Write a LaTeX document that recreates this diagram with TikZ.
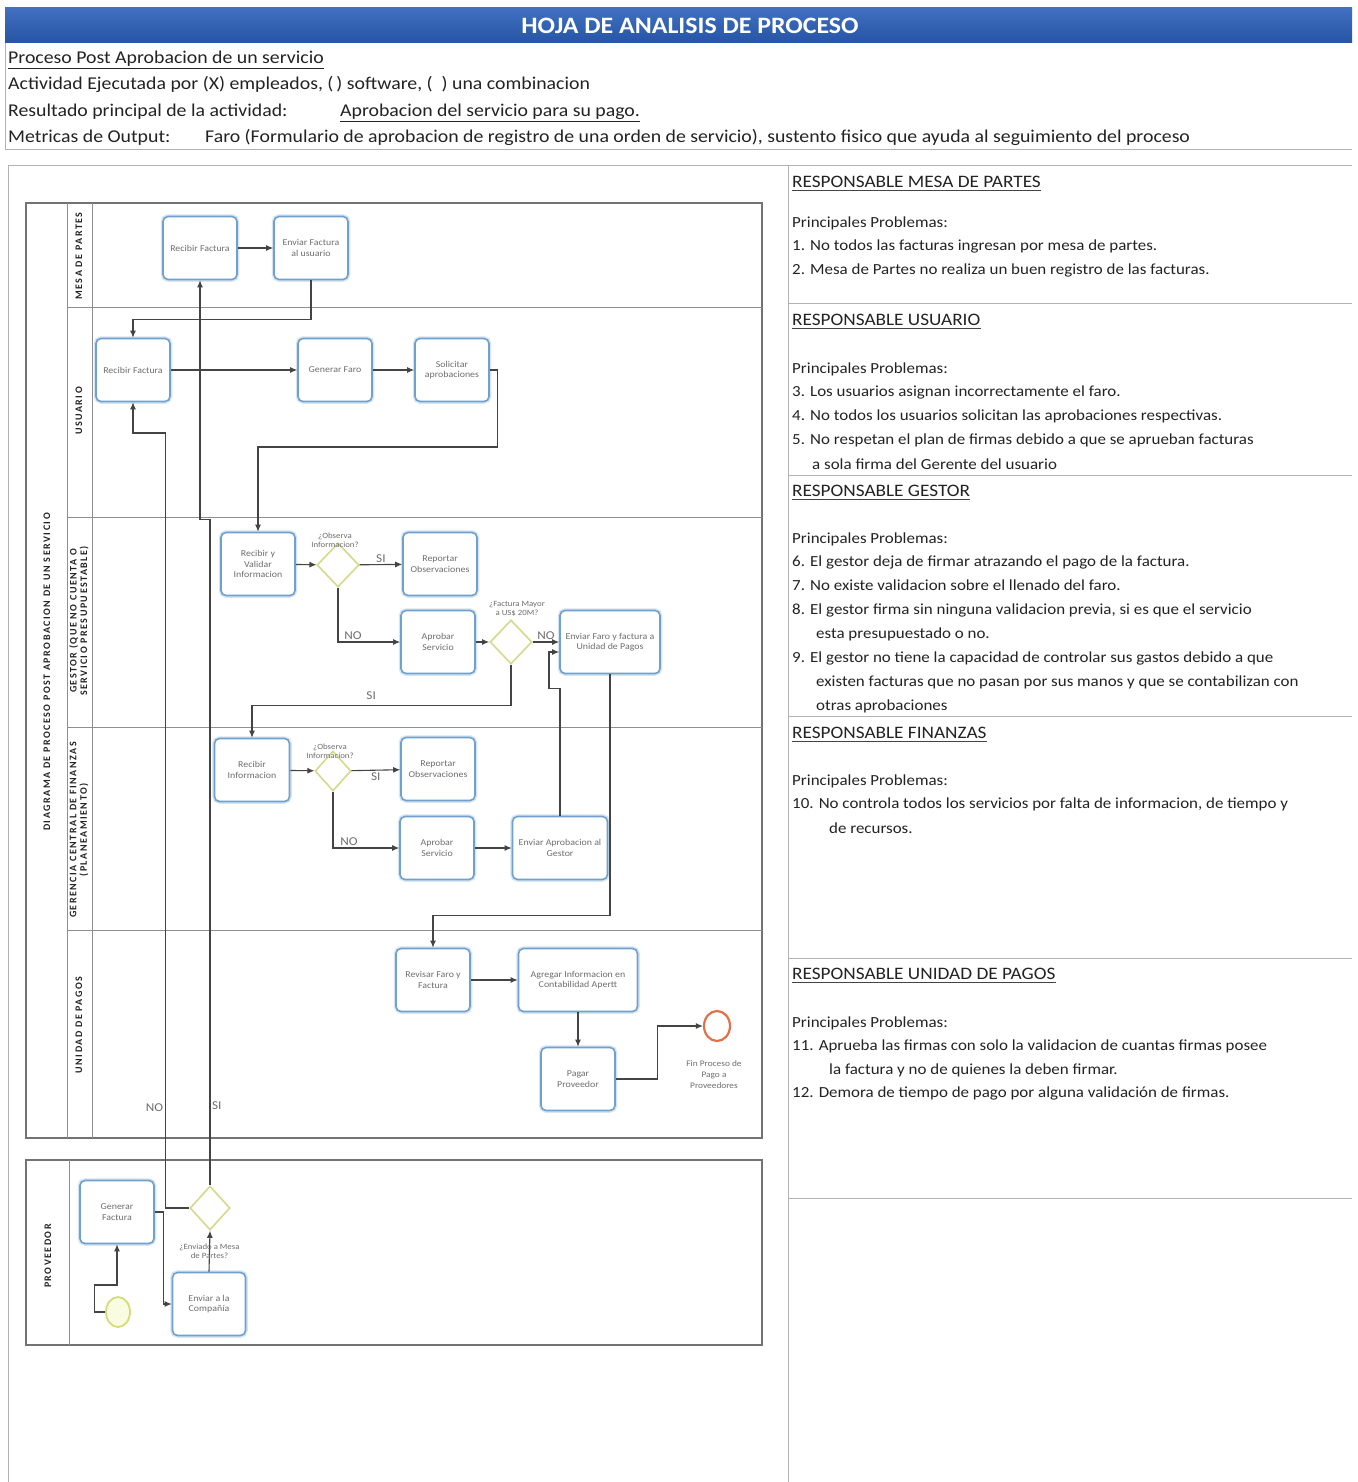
\documentclass[tikz,border=0pt]{standalone}
\usepackage{fontspec}
\setmainfont{Carlito}[FakeStretch=1.1]
\newfontfamily\lanefont{Carlito}[LetterSpace=15]
\usetikzlibrary{shapes.geometric,arrows.meta,calc}
\definecolor{barblue}{RGB}{38,84,166}
\definecolor{bartop}{RGB}{66,112,192}
\definecolor{boxblue}{RGB}{112,160,205}
\definecolor{decgreen}{RGB}{212,218,140}
\definecolor{flowgray}{RGB}{68,68,68}
\definecolor{poolgray}{RGB}{115,115,115}
\definecolor{rulegray}{RGB}{178,178,178}
\definecolor{txtgray}{RGB}{110,110,110}
\definecolor{endred}{RGB}{228,112,72}
\definecolor{startgreen}{RGB}{212,220,120}
\definecolor{startfill}{RGB}{250,252,226}
\definecolor{bodytext}{RGB}{35,35,35}
\begin{document}
\begin{tikzpicture}[x=1pt,y=-1pt,
  task/.style={draw=boxblue, line width=1.6pt, rounded corners=5pt, fill=white,
    preaction={draw=boxblue!28, line width=4.5pt},
    minimum width=74pt, minimum height=63pt, align=center,
    font=\fontsize{9}{10.5}\selectfont, text=txtgray, inner sep=2pt},
  gate/.style={diamond, draw=decgreen, line width=1.6pt, fill=white,
    minimum width=42pt, minimum height=44pt, inner sep=0pt},
  flow/.style={draw=flowgray, line width=1.1pt, -{Latex[length=7pt,width=6pt]}},
  qlabel/.style={font=\fontsize{8}{9}\selectfont, text=txtgray, align=center, inner sep=1pt},
  branch/.style={font=\fontsize{12}{13}\selectfont, text=txtgray, inner sep=1.5pt},
  lanelbl/.style={rotate=90, font=\lanefont\bfseries\fontsize{10}{10.5}\selectfont, text=bodytext, align=center, inner sep=0pt},
  pool/.style={draw=poolgray, line width=1.2pt},
  lanerule/.style={draw=poolgray!80, line width=1pt},
  panelrule/.style={draw=rulegray, line width=1pt},
  hdr/.style={anchor=base west, font=\fontsize{18}{21}\selectfont, text=bodytext, inner sep=0pt},
  rhead/.style={anchor=base west, font=\fontsize{17.5}{20}\selectfont, text=bodytext, inner sep=0pt},
  rtext/.style={anchor=base west, font=\fontsize{15.4}{18}\selectfont, text=bodytext, inner sep=0pt},
  headline/.style={draw=bodytext!85, line width=1.5pt}
]
\useasboundingbox (0,0) rectangle (1357,1482);
\fill[white] (0,0) rectangle (1357,1482);

% ---------- title bar and header lines ----------
\shade[top color=bartop, bottom color=barblue] (5,8) rectangle (1352,43);
\node[font=\bfseries\fontsize{23.5}{26}\selectfont, text=white] (title) at (690,26) {HOJA DE ANALISIS DE PROCESO};
\draw[panelrule, line width=0.8pt] (5,43) -- (5,150);
\node[hdr] (h1) at (8,64) {\underline{Proceso Post Aprobacion de un servicio}};
\node[hdr] (h2) at (8,90) {Actividad Ejecutada por (X) empleados, (\,) software, (\enspace) una combinacion};
\node[hdr] (h3) at (8,117) {Resultado principal de la actividad:};
\node[hdr] (h3b) at (340,117) {\underline{Aprobacion del servicio para su pago.}};
\node[hdr] (h4) at (8,143) {Metricas de Output:};
\node[hdr] (h4b) at (205,143) {Faro (Formulario de aprobacion de registro de una orden de servicio), sustento fisico que ayuda al seguimiento del proceso};
\draw[panelrule] (5,150) -- (1352,150);

% ---------- page frame ----------
\draw[panelrule] (8,166) -- (1352,166);
\draw[panelrule] (8,166) -- (8,1482);
\draw[panelrule] (788,166) -- (788,1482);
\foreach \yy in {303,475,716,958,1198} \draw[panelrule] (788,\yy) -- (1352,\yy);

% ---------- pool and lanes ----------
\draw[pool] (26,203) rectangle (762,1138);
\draw[lanerule] (67,203) -- (67,1138);
\draw[lanerule] (92,203) -- (92,1138);
\foreach \yy in {307,517,727,930} \draw[lanerule] (67,\yy) -- (762,\yy);
\node[lanelbl] (poolname) at (47,672) {DIAGRAMA DE PROCESO POST APROBACION DE UN SERVICIO};
\node[lanelbl] (lmesa) at (79,256) {MESA DE PARTES};
\node[lanelbl] (lusu) at (79,411) {USUARIO};
\node[lanelbl] (lgest) at (79,621) {GESTOR (QUE NO CUENTA O\\SERVICIO PRESUPUESTABLE)};
\node[lanelbl] (lfin) at (79,830) {GERENCIA CENTRAL DE FINANZAS\\(PLANEAMIENTO)};
\node[lanelbl] (lpag) at (79,1025) {UNIDAD DE PAGOS};

\draw[pool] (26,1160) rectangle (762,1345);
\draw[lanerule] (69,1160) -- (69,1345);
\node[lanelbl] (lprov) at (48,1256) {PROVEEDOR};

% ---------- tasks ----------
\node[task] (mRec) at (200,248) {Recibir Factura};
\node[task] (mEnv) at (311,248) {Enviar Factura\\al usuario};
\node[task] (uRec) at (133,370) {Recibir Factura};
\node[task] (uGen) at (335,370) {Generar Faro};
\node[task] (uSol) at (452,370) {Solicitar\\aprobaciones};
\node[task] (gRec) at (258,564) {Recibir y\\Validar\\Informacion};
\node[gate] (gD1) at (338,565) {};
\node[qlabel, anchor=south] (gQ1) at (335,549) {¿Observa\\Informacion?};
\node[task] (gRep) at (440,564) {Reportar\\Observaciones};
\node[task] (gApr) at (438,642) {Aprobar\\Servicio};
\node[gate] (gD2) at (511,642) {};
\node[qlabel, anchor=south] (gQ2) at (517,618) {¿Factura Mayor\\a US\$ 20M?};
\node[task, minimum width=100pt] (gEnv) at (610,642) {Enviar Faro y factura a\\Unidad de Pagos};
\node[task, minimum width=75pt] (fRec) at (252,770) {Recibir\\Informacion};
\node[gate, minimum width=36pt, minimum height=40pt] (fD) at (333,771) {};
\node[qlabel, anchor=south] (fQ) at (330,760) {¿Observa\\Informacion?};
\node[task] (fRep) at (438,769) {Reportar\\Observaciones};
\node[task] (fApr) at (437,848) {Aprobar\\Servicio};
\node[task, minimum width=95pt] (fEnv) at (560,848) {Enviar Aprobacion al\\Gestor};
\node[task] (pRev) at (433,980) {Revisar Faro y\\Factura};
\node[task, minimum width=119pt] (pAgr) at (578,980) {Agregar Informacion en\\Contabilidad Apertt};
\node[task] (pPag) at (578,1079) {Pagar\\Proveedor};
\node[ellipse, draw=endred, line width=2.2pt, fill=white, minimum width=26pt, minimum height=30pt, inner sep=0pt] (pEnd) at (717,1026) {};
\node[qlabel, font=\fontsize{8.5}{11}\selectfont] (pEndL) at (714,1075) {Fin Proceso de\\Pago a\\Proveedores};
\node[task] (prGen) at (117,1212) {Generar\\Factura};
\node[ellipse, draw=startgreen, line width=1.8pt, fill=startfill, minimum width=24pt, minimum height=30pt, inner sep=0pt] (prStart) at (118,1312) {};
\node[task, minimum width=73pt] (prEnv) at (209,1304) {Enviar a la\\Compañía};
\node[gate, minimum width=40pt] (prD) at (210,1208) {};

% ---------- connectors ----------
\draw[flow] (mRec) -- (mEnv);
\draw[flow] (mEnv.south) -- ++(0,39) -| (uRec.north);
\draw[flow] (uRec) -- (uGen);
\draw[flow] (uGen) -- (uSol);
\draw[flow] (uSol.east) -- ++(8,0) -- ++(0,77) -| (gRec.north);
\draw[flow] (gRec) -- (gD1);
\draw[flow] (gD1) -- node[branch, above] {SI} (gRep);
\draw[flow] (gD1.south) |- node[branch, pos=0.62, above] {NO} (gApr);
\draw[flow] (gApr) -- (gD2);
\draw[flow] (gD2) -- node[branch, above] {NO} (gEnv);
\draw[flow] (gD2.south) -- ++(0,41) -| node[branch, pos=0.27, above=4pt] {SI} (fRec.north);
\draw[flow] (gEnv.south) -- ++(0,241) -| (pRev.north);
\draw[flow] (fEnv.north) -- ++(0,-127) -- ++(-11,0) |- ($(gEnv.west)+(0,10)$);
\draw[flow] (fRec) -- (fD);
\draw[flow] (fD) -- node[branch, below] {SI} (fRep);
\draw[flow] (fD.south) |- node[branch, pos=0.62, above] {NO} (fApr);
\draw[flow] (fApr) -- (fEnv);
\draw[flow] (pRev) -- (pAgr);
\draw[flow] (pAgr) -- (pPag);
\draw[flow] (pPag.east) -- ++(42,0) |- (pEnd.west);
\draw[flow] (prStart.west) -- ++(-11,0) -- ++(0,-27) -| (prGen.south);
\draw[flow] (prGen.east) -- ++(9,0) |- (prEnv.west);
\draw[flow] (prEnv.north) -- node[qlabel] {¿Enviado a Mesa\\de Partes?} (prD.south);
\draw[flow] (prD.west) -- ++(-24,0) -- node[branch, pos=0.13, left] {NO} ++(0,-775) -| (uRec.south);
\draw[flow] (prD.north) -- node[branch, pos=0.12, right] {SI} ++(0,-666) -| (mRec.south);

% ---------- problems by role ----------
\node[rhead] (r1h) at (792,187) {RESPONSABLE MESA DE PARTES};
\node[rtext] (r1p) at (792,227) {Principales Problemas:};
\node[rtext] (r1a) at (792,250) {1. No todos las facturas ingresan por mesa de partes.};
\node[rtext] (r1b) at (792,274) {2. Mesa de Partes no realiza un buen registro de las facturas.};

\node[rhead] (r2h) at (792,325) {RESPONSABLE USUARIO};
\node[rtext] (r2p) at (792,373) {Principales Problemas:};
\node[rtext] (r2a) at (792,396) {3. Los usuarios asignan incorrectamente el faro.};
\node[rtext] (r2b) at (792,420) {4. No todos los usuarios solicitan las aprobaciones respectivas.};
\node[rtext] (r2c) at (792,444) {5. No respetan el plan de firmas debido a que se aprueban facturas};
\node[rtext] (r2d) at (812,469) {a sola firma del Gerente del usuario};

\node[rhead] (r3h) at (792,496) {RESPONSABLE GESTOR};
\node[rtext] (r3p) at (792,543) {Principales Problemas:};
\node[rtext] (r3a) at (792,566) {6. El gestor deja de firmar atrazando el pago de la factura.};
\node[rtext] (r3b) at (792,590) {7. No existe validacion sobre el llenado del faro.};
\node[rtext] (r3c) at (792,614) {8. El gestor firma sin ninguna validacion previa, si es que el servicio};
\node[rtext] (r3d) at (816,638) {esta presupuestado o no.};
\node[rtext] (r3e) at (792,662) {9. El gestor no tiene la capacidad de controlar sus gastos debido a que};
\node[rtext] (r3f) at (816,686) {existen facturas que no pasan por sus manos y que se contabilizan con};
\node[rtext] (r3g) at (816,710) {otras aprobaciones};

\node[rhead] (r4h) at (792,738) {RESPONSABLE FINANZAS};
\node[rtext] (r4p) at (792,785) {Principales Problemas:};
\node[rtext] (r4a) at (792,808) {10. No controla todos los servicios por falta de informacion, de tiempo y};
\node[rtext] (r4b) at (829,833) {de recursos.};

\node[rhead] (r5h) at (792,979) {RESPONSABLE UNIDAD DE PAGOS};
\node[rtext] (r5p) at (792,1027) {Principales Problemas:};
\node[rtext] (r5a) at (792,1050) {11. Aprueba las firmas con solo la validacion de cuantas firmas posee};
\node[rtext] (r5b) at (829,1074) {la factura y no de quienes la deben firmar.};
\node[rtext] (r5c) at (792,1097) {12. Demora de tiempo de pago por alguna validación de firmas.};

% underlines of the role headings
\foreach \h in {r1h,r2h,r3h,r4h,r5h}
  \draw[headline] ($(\h.base west)+(0,3.5)$) -- ($(\h.base east)+(0,3.5)$);
\end{tikzpicture}
\end{document}
